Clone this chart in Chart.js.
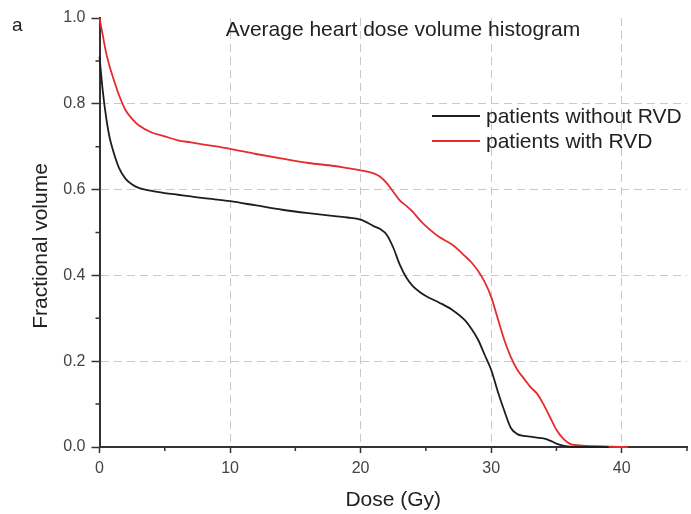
<!DOCTYPE html>
<html>
<head>
<meta charset="utf-8">
<script src="https://cdn.jsdelivr.net/npm/chart.js@4"></script>
<style>
  body { margin: 0; background: #fff; }
  #dvh { display: block; }
</style>
</head>
<body>
<canvas id="dvh" width="691" height="514"></canvas>
<script>
// 線量 (Gy)
const dose = [0, 0.25, 0.5, 0.75, 1, 1.5, 2, 2.5, 3, 4, 5, 6, 7, 8, 10, 12, 14, 16, 18, 19, 20,
  21, 21.5, 22, 22.5, 23, 23.5, 24, 24.5, 25, 26, 27, 28, 28.5, 29, 29.5, 30, 30.5, 31, 31.5,
  32, 32.5, 33, 33.5, 34, 34.5, 35, 35.5, 36, 37, 38, 39, 40, 40.5];

// patients without RVD
const volWithout = [0.91, 0.83, 0.77, 0.725, 0.695, 0.65, 0.625, 0.612, 0.604, 0.597, 0.592, 0.588, 0.584, 0.58, 0.573, 0.563, 0.553, 0.545, 0.538, 0.535, 0.53,
  0.515, 0.508, 0.495, 0.465, 0.425, 0.395, 0.375, 0.362, 0.352, 0.337, 0.32, 0.295, 0.275, 0.25, 0.215, 0.18, 0.13, 0.085, 0.045,
  0.03, 0.026, 0.024, 0.022, 0.02, 0.015, 0.008, 0.003, 0.001, 0, 0, 0, null, null];

// patients with RVD
const volWith = [1.0, 0.96, 0.92, 0.89, 0.865, 0.82, 0.785, 0.765, 0.75, 0.733, 0.724, 0.715, 0.71, 0.705, 0.695, 0.683, 0.672, 0.662, 0.655, 0.65, 0.645,
  0.638, 0.63, 0.615, 0.595, 0.575, 0.562, 0.548, 0.53, 0.515, 0.49, 0.472, 0.445, 0.43, 0.41, 0.385, 0.35, 0.3, 0.25, 0.21,
  0.18, 0.16, 0.14, 0.125, 0.1, 0.07, 0.04, 0.02, 0.008, 0.003, 0.002, 0.001, 0, 0];

const seriesNames = ['patients without RVD', 'patients with RVD'];
const xTicks = [0, 10, 20, 30, 40];
const xMinorTicks = [5, 15, 25, 35, 45];
const yTicks = [0, 0.2, 0.4, 0.6, 0.8, 1.0];
const yMinorTicks = [0.1, 0.3, 0.5, 0.7, 0.9];

const FONT = '"Liberation Sans", Arial, sans-serif';
const AXIS = '#333';

const toPoints = vals => dose.map((d, i) => ({ x: d, y: vals[i] }));

// タイトル・凡例・軸ラベル・副目盛りを描くプラグイン
const decor = {
  id: 'decor',
  afterDraw(chart) {
    const { ctx, chartArea: a, scales: { x, y } } = chart;
    ctx.save();

    // 副目盛り
    ctx.strokeStyle = AXIS;
    ctx.lineWidth = 1.5;
    ctx.beginPath();
    xMinorTicks.forEach(v => {
      const px = x.getPixelForValue(v);
      ctx.moveTo(px, a.bottom);
      ctx.lineTo(px, a.bottom + 4);
    });
    yMinorTicks.forEach(v => {
      const py = y.getPixelForValue(v);
      ctx.moveTo(a.left, py);
      ctx.lineTo(a.left - 4, py);
    });
    ctx.stroke();

    ctx.fillStyle = '#222';
    ctx.textBaseline = 'middle';

    // パネル記号
    ctx.font = '19px ' + FONT;
    ctx.textAlign = 'left';
    ctx.fillText('a', 12, 26);

    // タイトル
    ctx.font = '21px ' + FONT;
    ctx.textAlign = 'center';
    ctx.fillText('Average heart dose volume histogram', 403, 30);

    // 軸ラベル
    ctx.fillText('Dose (Gy)', (a.left + a.right) / 2, 500);
    ctx.save();
    ctx.translate(41, 246);
    ctx.rotate(-Math.PI / 2);
    ctx.fillText('Fractional volume', 0, 0);
    ctx.restore();

    // 凡例
    ctx.textAlign = 'left';
    chart.data.datasets.forEach((ds, i) => {
      const ly = 116 + i * 25;
      ctx.strokeStyle = ds.borderColor;
      ctx.lineWidth = 1.8;
      ctx.beginPath();
      ctx.moveTo(432, ly);
      ctx.lineTo(480, ly);
      ctx.stroke();
      ctx.fillStyle = '#222';
      ctx.fillText(ds.label, 486, ly + 1);
    });

    ctx.restore();
  }
};

new Chart(document.getElementById('dvh'), {
  type: 'line',
  data: {
    datasets: [
      {
        label: seriesNames[0],
        data: toPoints(volWithout),
        borderColor: '#1e1e1e',
        borderWidth: 1.8,
        pointRadius: 0,
        cubicInterpolationMode: 'monotone',
        clip: 4
      },
      {
        label: seriesNames[1],
        data: toPoints(volWith),
        borderColor: '#e82a2e',
        borderWidth: 1.8,
        pointRadius: 0,
        cubicInterpolationMode: 'monotone',
        clip: 4
      }
    ]
  },
  options: {
    responsive: false,
    animation: false,
    layout: { padding: { top: 18, right: 4, left: 0, bottom: 0 } },
    plugins: {
      legend: { display: false },
      title: { display: false },
      tooltip: { enabled: false }
    },
    scales: {
      x: {
        type: 'linear',
        min: 0,
        max: 45,
        afterBuildTicks: s => { s.ticks = xTicks.map(v => ({ value: v })); },
        afterFit: s => { s.height = 67; },
        ticks: {
          color: '#444',
          font: { family: FONT, size: 16 },
          padding: 6,
          maxRotation: 0
        },
        grid: {
          color: c => (c.tick && c.tick.value === 0 ? 'transparent' : '#c8c8c8'),
          lineWidth: 1,
          tickColor: AXIS,
          tickLength: 6,
          tickWidth: 1.5,
          tickBorderDash: []
        },
        border: { color: AXIS, width: 2, dash: [8, 5] },
        title: { display: false }
      },
      y: {
        min: 0,
        max: 1.0,
        afterBuildTicks: s => { s.ticks = yTicks.map(v => ({ value: v })); },
        afterFit: s => { s.width = 99.5; },
        ticks: {
          color: '#444',
          font: { family: FONT, size: 16 },
          padding: 6,
          callback: v => v.toFixed(1)
        },
        grid: {
          color: c => (c.tick && (c.tick.value === 0 || c.tick.value === 1) ? 'transparent' : '#c8c8c8'),
          lineWidth: 1,
          tickColor: AXIS,
          tickLength: 8,
          tickWidth: 1.5,
          tickBorderDash: []
        },
        border: { color: AXIS, width: 2, dash: [8, 5] },
        title: { display: false }
      }
    }
  },
  plugins: [decor]
});
</script>
</body>
</html>
